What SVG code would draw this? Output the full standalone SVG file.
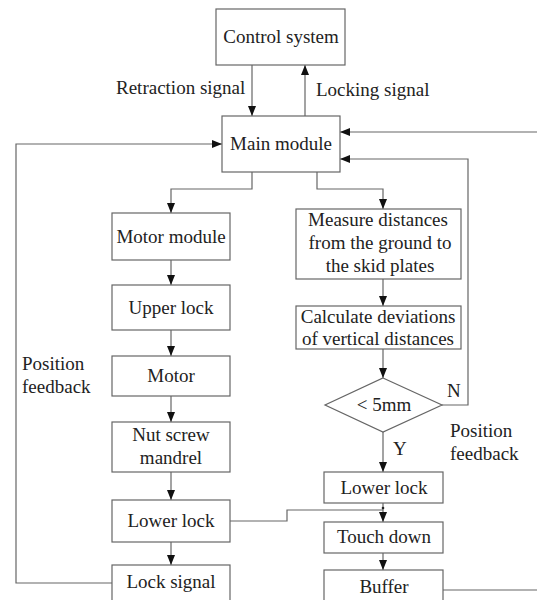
<svg xmlns="http://www.w3.org/2000/svg" width="537" height="600" viewBox="0 0 537 600">
<defs>
<marker id="ah" markerUnits="userSpaceOnUse" markerWidth="10" markerHeight="10" viewBox="0 0 10 10" refX="10" refY="5" orient="auto">
<path d="M0,1 L10,5 L0,9 Z" fill="#111"/>
</marker>
</defs>
<style>
.box{fill:#fff;stroke:#666;stroke-width:1.2}
.ln{fill:none;stroke:#666;stroke-width:1.2}
text{font-family:"Liberation Serif","Times New Roman",serif;font-size:19px;fill:#222}
.c{text-anchor:middle}
</style>
<rect width="537" height="600" fill="#fff"/>
<g id="connectors">
<line class="ln" x1="252" y1="65" x2="252" y2="116" marker-end="url(#ah)"/>
<line class="ln" x1="305" y1="116" x2="305" y2="65" marker-end="url(#ah)"/>
<line class="ln" x1="537" y1="132" x2="340" y2="132" marker-end="url(#ah)"/>
<polyline class="ln" points="442,405 468,405 468,159 340,159" marker-end="url(#ah)"/>
<polyline class="ln" points="112,583 16,583 16,144 222,144" marker-end="url(#ah)"/>
<polyline class="ln" points="252,172 252,189 171,189 171,213" marker-end="url(#ah)"/>
<polyline class="ln" points="317,172 317,189 383,189 383,209" marker-end="url(#ah)"/>
<line class="ln" x1="171" y1="260" x2="171" y2="285" marker-end="url(#ah)"/>
<line class="ln" x1="171" y1="330" x2="171" y2="356" marker-end="url(#ah)"/>
<line class="ln" x1="171" y1="396" x2="171" y2="422" marker-end="url(#ah)"/>
<line class="ln" x1="171" y1="472" x2="171" y2="500" marker-end="url(#ah)"/>
<line class="ln" x1="171" y1="542" x2="171" y2="565" marker-end="url(#ah)"/>
<line class="ln" x1="383" y1="279" x2="383" y2="306" marker-end="url(#ah)"/>
<line class="ln" x1="383" y1="349" x2="383" y2="378" marker-end="url(#ah)"/>
<line class="ln" x1="383" y1="432" x2="383" y2="472" marker-end="url(#ah)"/>
<line class="ln" x1="383" y1="503" x2="383" y2="522" marker-end="url(#ah)"/>
<polyline class="ln" points="230,521 287,521 287,510 383,510"/>
<circle cx="383" cy="508" r="1.3" fill="#222"/>
<line class="ln" x1="383" y1="553" x2="383" y2="570" marker-end="url(#ah)"/>
<line class="ln" x1="443" y1="590" x2="537" y2="590"/>
</g>
<g id="labels">
<text x="116" y="94">Retraction signal</text>
<text x="316" y="96">Locking signal</text>
<text x="22" y="370">Position</text>
<text x="22" y="393">feedback</text>
<text x="450" y="437">Position</text>
<text x="450" y="460">feedback</text>
<text x="447" y="397">N</text>
<text x="393" y="455">Y</text>
</g>
<g id="control-system"><rect class="box" x="216" y="9" width="129" height="56"/><text class="c" x="281" y="43">Control system</text></g>
<g id="main-module"><rect class="box" x="222" y="116" width="118" height="56"/><text class="c" x="281" y="150">Main module</text></g>
<g id="motor-module"><rect class="box" x="112" y="213" width="118" height="47"/><text class="c" x="171" y="243">Motor module</text></g>
<g id="upper-lock"><rect class="box" x="112" y="285" width="118" height="45"/><text class="c" x="171" y="314">Upper lock</text></g>
<g id="motor"><rect class="box" x="112" y="356" width="118" height="40"/><text class="c" x="171" y="382">Motor</text></g>
<g id="nut-screw"><rect class="box" x="112" y="422" width="118" height="50"/><text class="c" x="171" y="441">Nut screw</text><text class="c" x="171" y="464">mandrel</text></g>
<g id="lower-lock-left"><rect class="box" x="112" y="500" width="118" height="42"/><text class="c" x="171" y="527">Lower lock</text></g>
<g id="lock-signal"><rect class="box" x="112" y="565" width="118" height="40"/><text class="c" x="171" y="588">Lock signal</text></g>
<g id="measure"><rect class="box" x="296" y="209" width="165" height="70"/><text class="c" x="378" y="226">Measure distances</text><text class="c" x="380" y="249">from the ground to</text><text class="c" x="380" y="272">the skid plates</text></g>
<g id="calculate"><rect class="box" x="296" y="306" width="165" height="43"/><text class="c" x="378" y="323">Calculate deviations</text><text class="c" x="378" y="345">of vertical distances</text></g>
<g id="decision"><polygon class="box" points="383,378 442,405 383,432 325,405"/><text class="c" x="384" y="411">&lt; 5mm</text></g>
<g id="lower-lock-right"><rect class="box" x="324" y="472" width="119" height="31"/><text class="c" x="384" y="494">Lower lock</text></g>
<g id="touch-down"><rect class="box" x="324" y="522" width="119" height="31"/><text class="c" x="384" y="543">Touch down</text></g>
<g id="buffer"><rect class="box" x="324" y="570" width="119" height="35"/><text class="c" x="384" y="593">Buffer</text></g>
</svg>
